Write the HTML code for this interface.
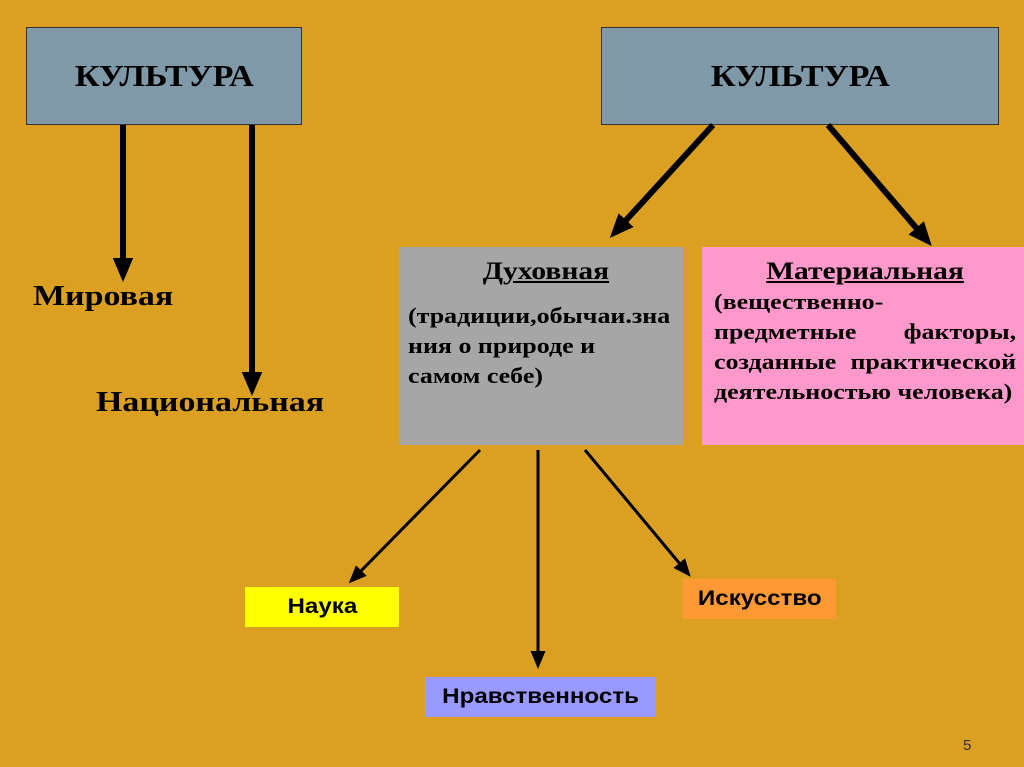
<!DOCTYPE html>
<html><head><meta charset="utf-8"><style>
body{margin:0;width:1024px;height:767px;background:#DBA021;position:relative;overflow:hidden;font-family:"Liberation Serif",serif;}
.b{position:absolute;box-sizing:border-box;}
.k{background:#7F99A8;border:1px solid #333;font-weight:bold;font-size:31px;display:flex;align-items:center;justify-content:center;color:#000;}
.k span{display:inline-block;transform:scaleX(1.1);}
.t{position:absolute;font-weight:bold;font-size:29px;transform:scaleX(1.17);transform-origin:left top;}
.s{font-family:"Liberation Sans",sans-serif;font-weight:bold;font-size:21px;display:flex;align-items:center;justify-content:center;}
.s span{display:inline-block;transform:scaleX(1.15);}
.in{transform:scaleX(1.18);transform-origin:left top;width:85%;}
</style></head><body>
<div class="b k" style="left:26px;top:27px;width:276px;height:98px"><span>КУЛЬТУРА</span></div>
<div class="b k" style="left:601px;top:27px;width:398px;height:98px"><span>КУЛЬТУРА</span></div>
<div class="t" style="left:33px;top:280px">Мировая</div>
<div class="t" style="left:96px;top:386px">Национальная</div>
<div class="b" style="left:399px;top:247px;width:284px;height:198px;background:#A6A6A6;font-weight:bold;font-size:22px;line-height:30px;padding:10px 0 0 9px;">
<div class="in">
<div style="text-align:center;text-decoration:underline;font-size:25px;margin-bottom:14px">Духовная</div>
(традиции,обычаи.зна<br>ния о природе и<br>самом себе)</div></div>
<div class="b" style="left:702px;top:247px;width:322px;height:198px;background:#FF99CC;font-weight:bold;font-size:22px;line-height:30px;padding:10px 0 0 12px;">
<div class="in" style="width:256px">
<div style="text-align:center;text-decoration:underline;font-size:25px;margin-bottom:0">Материальная</div>
(вещественно-<br><div style="display:flex;justify-content:space-between"><span>предметные</span><span>факторы,</span></div><div style="display:flex;justify-content:space-between"><span>созданные</span><span>практической</span></div>деятельностью человека)</div></div>
<div class="b s" style="left:245px;top:587px;width:154px;height:40px;background:#FFFF00"><span>Наука</span></div>
<div class="b s" style="left:683px;top:579px;width:153px;height:40px;background:#FF9933"><span>Искусство</span></div>
<div class="b s" style="left:425px;top:677px;width:231px;height:40px;background:#9999FF"><span>Нравственность</span></div>
<div style="position:absolute;left:963px;top:737px;font-family:'Liberation Sans',sans-serif;font-size:15px;color:#333">5</div>
<svg width="1024" height="767" style="position:absolute;left:0;top:0">
<defs>
<marker id="a" markerWidth="4" markerHeight="4" refX="2" refY="2" orient="auto" markerUnits="strokeWidth"><path d="M0,0.3L4,2L0,3.7z" fill="#000"/></marker>
<marker id="c" markerWidth="6" markerHeight="6" refX="3" refY="3" orient="auto" markerUnits="strokeWidth"><path d="M0,0.5L6,3L0,5.5z" fill="#000"/></marker>
</defs>
<g stroke="#000" stroke-width="6">
<line x1="123" y1="125" x2="123" y2="270" marker-end="url(#a)"/>
<line x1="252" y1="125" x2="252" y2="384" marker-end="url(#a)"/>
<line x1="713" y1="125" x2="618" y2="229" marker-end="url(#a)"/>
<line x1="828" y1="125" x2="924" y2="237" marker-end="url(#a)"/>
</g>
<g stroke="#000" stroke-width="3">
<line x1="480" y1="450" x2="355" y2="577" marker-end="url(#c)"/>
<line x1="538" y1="450" x2="538" y2="660" marker-end="url(#c)"/>
<line x1="585" y1="450" x2="685" y2="570" marker-end="url(#c)"/>
</g>
</svg>
</body></html>
